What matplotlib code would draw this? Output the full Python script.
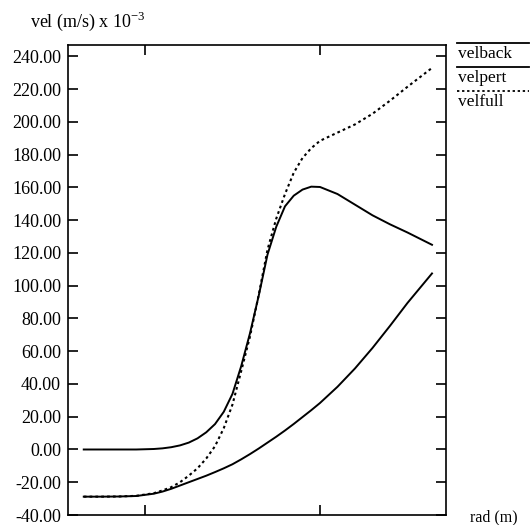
import matplotlib
matplotlib.use("Agg")
import matplotlib.pyplot as plt
from matplotlib.lines import Line2D

# ---- data ----
rad = [0.65, 0.75, 0.85, 0.95, 1.05, 1.10, 1.15, 1.20, 1.25, 1.30, 1.35, 1.40,
       1.45, 1.50, 1.55, 1.60, 1.65, 1.70, 1.75, 1.80, 1.85, 1.90, 1.95, 2.00,
       2.10, 2.20, 2.30, 2.40, 2.50, 2.64]
velback = [-28.8, -28.8, -28.7, -28.4, -27.0, -25.7, -24.0, -22.0, -20.0, -18.0,
           -16.0, -13.8, -11.5, -9.0, -6.0, -2.8, 0.6, 4.2, 7.8, 11.6, 15.6,
           19.8, 24.0, 28.4, 38.3, 49.5, 62.0, 75.5, 89.5, 107.5]
velpert = [0.0, 0.0, 0.0, 0.0, 0.3, 0.7, 1.4, 2.5, 4.2, 6.8, 10.5, 15.5, 23.0,
           34.0, 51.0, 71.0, 94.0, 119.0, 136.0, 148.5, 155.0, 158.7, 160.5,
           160.3, 156.0, 149.5, 143.0, 137.5, 132.5, 125.0]
velfull = [-28.8, -28.8, -28.7, -28.3, -26.7, -25.0, -23.0, -20.0, -16.0, -11.5,
           -5.5, 2.0, 13.0, 27.5, 48.0, 69.0, 94.5, 122.0, 141.0, 156.0, 169.0,
           178.0, 184.0, 188.5, 193.5, 198.5, 205.0, 213.0, 221.5, 233.0]
yticks = [-40, -20, 0, 20, 40, 60, 80, 100, 120, 140, 160, 180, 200, 220, 240]
xticks = [1.0, 2.0]
series_names = ["velback", "velpert", "velfull"]

plt.rcParams["font.family"] = ["Liberation Serif", "DejaVu Serif"]

W, H = 531, 525
fig = plt.figure(figsize=(W / 100, H / 100), dpi=100)
left, right, top, bottom = 68, 446, 45, 515
ax = fig.add_axes([left / W, 1 - bottom / H, (right - left) / W, (bottom - top) / H])

ax.plot(rad, velback, color="black", lw=1.4, solid_joinstyle="round")
ax.plot(rad, velpert, color="black", lw=1.4, solid_joinstyle="round")
ax.plot(rad, velfull, color="black", lw=1.5, linestyle=(0, (1.3, 1.5)))

ax.set_xlim(0.56, 2.72)
ax.set_ylim(-40, 247)
ax.set_yticks(yticks)
ax.set_yticklabels([f"{v:.2f}" for v in yticks], fontsize=13)
ax.set_xticks(xticks)
ax.set_xticklabels([])
ax.tick_params(axis="both", direction="in", length=7, width=1.2,
               top=True, right=True, pad=5)
for s in ax.spines.values():
    s.set_linewidth(1.2)

# axis labels
fig.text(30 / W, 1 - 27 / H, "vel (m/s) x 10$^{\\mathregular{-3}}$", fontsize=13,
         ha="left", va="baseline")
fig.text(470 / W, 1 - 521 / H, "rad (m)", fontsize=11.5, ha="left", va="baseline")

# legend: label with line drawn above it
styles = ["-", "-", (0, (1.3, 1.5))]
rows = [43, 67, 91]
for name, st, ry in zip(series_names, styles, rows):
    fig.add_artist(Line2D([457 / W, 529 / W], [1 - ry / H, 1 - ry / H],
                          transform=fig.transFigure, color="black",
                          lw=1.3, linestyle=st))
    fig.text(458 / W, 1 - (ry + 15) / H, name, fontsize=12.5,
             ha="left", va="baseline")

fig.savefig("out.png", dpi=100)
